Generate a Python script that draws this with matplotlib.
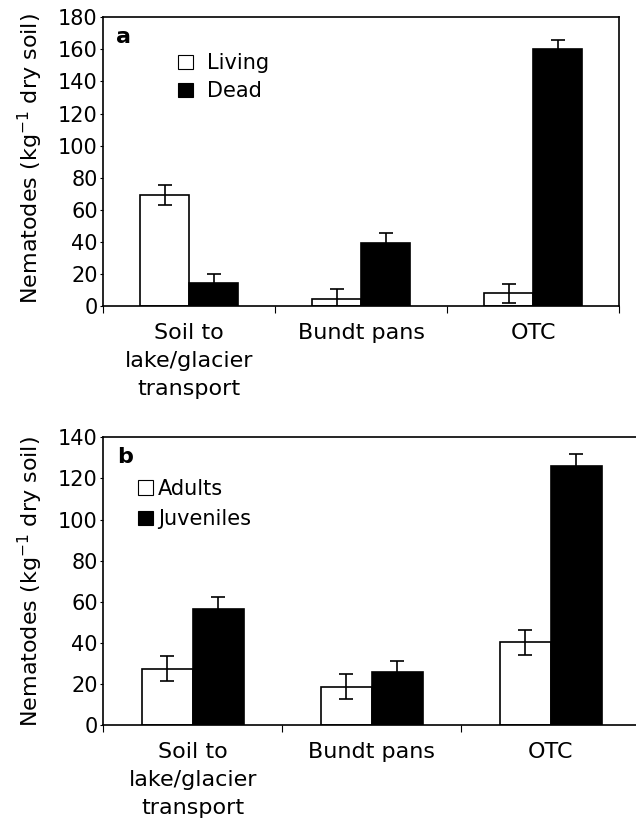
import numpy as np
import matplotlib
matplotlib.use("Agg")
import matplotlib.pyplot as plt
from matplotlib.patches import Patch

# данные
categories = ["Soil to\nlake/glacier\ntransport", "Bundt pans", "OTC"]

living = [69.2, 4.2, 7.9]
living_err = [6.0, 6.2, 6.0]
dead = [14.5, 39.5, 160.0]
dead_err = [5.5, 6.0, 6.0]

adults = [27.5, 18.8, 40.4]
adults_err = [6.1, 6.0, 6.0]
juveniles = [56.6, 25.9, 126.1]
juveniles_err = [5.8, 5.6, 5.8]

yticks_a = [0, 20, 40, 60, 80, 100, 120, 140, 160, 180]
yticks_b = [0, 20, 40, 60, 80, 100, 120, 140]

plt.rcParams['font.family'] = ['DejaVu Sans']
FS = 15

fig = plt.figure(figsize=(6.36, 8.22), dpi=100)
ax_a = fig.add_axes([0.1624, 0.6277, 0.8113, 0.3512])
ax_b = fig.add_axes([0.1624, 0.1176, 0.8443, 0.3504])

width = 0.286
x = np.arange(len(categories))


def draw_panel(ax, v1, e1, v2, e2, names, yticks, letter, leg_kw):
    ax.bar(x - width / 2, v1, width, color="white", edgecolor="black", linewidth=1.2, zorder=2)
    ax.bar(x + width / 2, v2, width, color="black", edgecolor="black", linewidth=1.2, zorder=2)
    ax.errorbar(x - width / 2, v1, yerr=e1, fmt="none", ecolor="black",
                elinewidth=1.2, capsize=5, capthick=1.2, zorder=3)
    ax.errorbar(x + width / 2, v2, yerr=e2, fmt="none", ecolor="black",
                elinewidth=1.2, capsize=5, capthick=1.2, zorder=3)

    ax.set_xlim(-0.5, 2.5)
    ax.set_ylim(0, yticks[-1])
    ax.set_yticks(yticks)
    ax.tick_params(axis="y", direction="out", length=2.5, width=0.8, pad=1.5, labelsize=FS)

    # подписи категорий по центру, риски на границах категорий
    ax.set_xticks(x)
    ax.set_xticklabels(categories, fontsize=FS + 1, linespacing=1.5)
    ax.tick_params(axis="x", which="major", length=0, pad=12)
    ax.set_xticks(np.arange(-0.5, 3.0, 1.0), minor=True)
    ax.tick_params(axis="x", which="minor", direction="out", length=5, width=0.8)

    for s in ax.spines.values():
        s.set_linewidth(1.2)

    ax.set_ylabel("Nematodes (kg$^{-1}$ dry soil)", fontsize=16)
    ax.text(0.025, 0.965, letter, transform=ax.transAxes, fontsize=FS + 1,
            fontweight="bold", va="top", ha="left")

    handles = [Patch(facecolor="white", edgecolor="black", linewidth=0.8),
               Patch(facecolor="black", edgecolor="black", linewidth=0.8)]
    ax.legend(handles, names, frameon=False, fontsize=FS, loc="upper left",
              borderpad=0, borderaxespad=0, handlelength=0.7, handleheight=0.7,
              **leg_kw)


draw_panel(ax_a, living, living_err, dead, dead_err, ["Living", "Dead"], yticks_a, "a",
           dict(bbox_to_anchor=(0.145, 0.876), handletextpad=0.7, labelspacing=0.4))
draw_panel(ax_b, adults, adults_err, juveniles, juveniles_err, ["Adults", "Juveniles"], yticks_b, "b",
           dict(bbox_to_anchor=(0.065, 0.855), handletextpad=0.25, labelspacing=0.5))

ax_a.yaxis.set_label_coords(-0.113, 0.51)
ax_b.yaxis.set_label_coords(-0.108, 0.5)

fig.savefig("out.png", dpi=100)
